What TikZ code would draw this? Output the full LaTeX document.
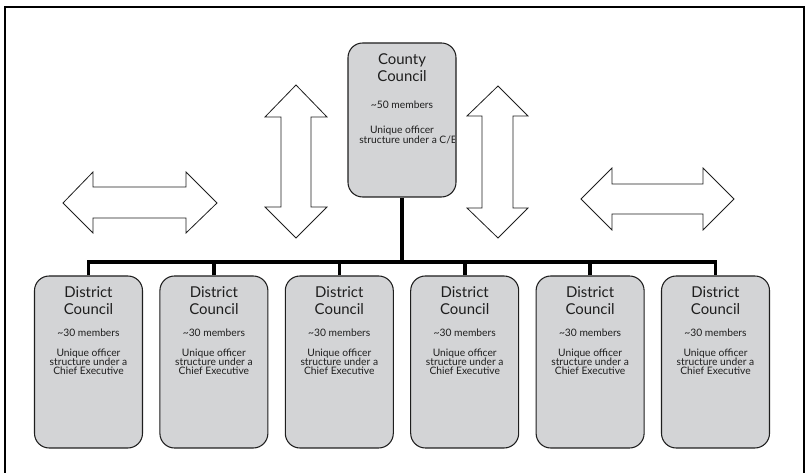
\documentclass[tikz,border=0pt]{standalone}
\usepackage{fontspec}
\setmainfont{Lato}
\definecolor{boxgray}{RGB}{211,212,214}
\definecolor{ink}{RGB}{30,30,30}
\begin{document}
\begin{tikzpicture}[x=0.75pt,y=-0.75pt,
  council/.style={draw=ink, fill=boxgray, rounded corners=11pt, line width=0.8pt,
    minimum width=81pt, inner sep=0pt},
  ttl/.style={text=ink, font=\fontsize{11.2pt}{12pt}\selectfont, inner sep=0pt, anchor=base},
  body/.style={text=ink, font=\fontsize{7.7pt}{8pt}\selectfont, inner sep=0pt, anchor=base},
  bigarrow/.style={draw=ink, fill=white, line width=0.6pt, line join=miter},
  bus/.style={draw=black, line width=2.7pt}]
\useasboundingbox (0,0) rectangle (807,473);
% frame
\draw[line width=1.6pt, black] (5,7) rectangle (804,495);

% county council
\node[council, minimum height=115.5pt] (cc) at (402,120) {};
\node[ttl] (cct1) at (402,65) {County};
\node[ttl] (cct2) at (402,82) {Council};
\node[body] (ccm) at (402,109) {\textasciitilde50 members};
\node[body] (cco1) at (402,134) {Unique officer};
\begin{scope}
  \clip (cc.north west) rectangle ([xshift=-1.5pt]cc.south east);
  \node[body, anchor=base west] (cco2) at (359,144) {structure under a C/E};
\end{scope}

% district councils
\foreach \i/\x in {1/88.5,2/213.9,3/339.3,4/464.7,5/590.1,6/715.5}{
  \node[council, minimum height=129pt] (d\i) at (\x,362) {};
  \node[ttl] (d\i t1) at (\x,298) {District};
  \node[ttl] (d\i t2) at (\x,315) {Council};
  \node[body] (d\i m) at (\x,337) {\textasciitilde30 members};
  \node[body] (d\i o1) at (\x,357) {Unique officer};
  \node[body] (d\i o2) at (\x,366) {structure under a};
  \node[body] (d\i o3) at (\x,375) {Chief Executive};
}

% connectors
\coordinate (bus) at (402,262);
\draw[bus] (cc.south) -- (bus);
\draw[bus, line join=miter] (d1.north) -- (d1.north |- bus) -- (d6.north |- bus) -- (d6.north);
\foreach \i in {2,3,4,5}{
  \draw[bus] (d\i.north) -- (d\i.north |- bus);
}

% double arrows
\draw[bigarrow] (63,203) -- (93,172) -- (93,187) -- (186,187) -- (186,172) -- (217,203)
  -- (186,233) -- (186,218) -- (93,218) -- (93,233) -- cycle;
\draw[bigarrow] (581,199) -- (612,168) -- (612,184) -- (703,184) -- (703,168) -- (734,199)
  -- (703,230) -- (703,214) -- (612,214) -- (612,230) -- cycle;
\draw[bigarrow] (296,85) -- (327,117) -- (311,117) -- (311,207) -- (327,207) -- (296,238)
  -- (265,207) -- (281,207) -- (281,117) -- (265,117) -- cycle;
\draw[bigarrow] (498,86) -- (528,116) -- (513,116) -- (513,208) -- (528,208) -- (498,238)
  -- (467,208) -- (482,208) -- (482,116) -- (467,116) -- cycle;
\end{tikzpicture}
\end{document}
